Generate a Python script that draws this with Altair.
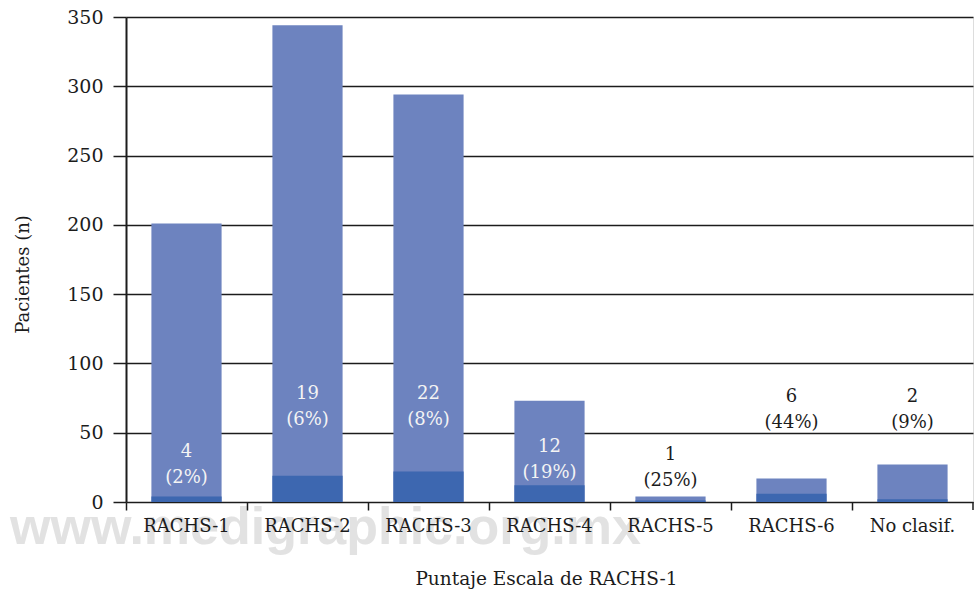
import altair as alt
import pandas as pd

# Patients per RACHS-1 risk category, with deaths and mortality
categories = ["RACHS-1", "RACHS-2", "RACHS-3", "RACHS-4", "RACHS-5", "RACHS-6", "No clasif."]
patients = [201, 344, 294, 73, 4, 17, 27]
deaths = [4, 19, 22, 12, 1, 6, 2]
mortality_pct = [2, 6, 8, 19, 25, 44, 9]

# Vertical placement of each two-line annotation (in patient units)
label_anchor = [36, 78, 78, 40, 34, 76, 76]

df = pd.DataFrame({
    "cat": categories,
    "total": patients,
    "deaths": deaths,
    "pct": [f"({p}%)" for p in mortality_pct],
    "anchor": label_anchor,
})

W, H = 847, 485
SERIF = "DejaVu Serif"
INK = "#1c1c1c"
LIGHT = "#6d83bf"
DARK = "#3d67b0"

x_enc = alt.X(
    "cat:N",
    sort=categories,
    scale=alt.Scale(paddingInner=0, paddingOuter=0),
    axis=alt.Axis(
        title="Puntaje Escala de RACHS-1",
        bandPosition=0,
        domain=False,
        grid=False,
        ticks=True,
        tickSize=8,
        tickWidth=1.5,
        tickColor=INK,
        labelAngle=0,
        labelFont=SERIF,
        labelFontSize=18,
        labelColor=INK,
        labelPadding=7,
        titleFont=SERIF,
        titleFontSize=18.5,
        titleFontWeight="normal",
        titleColor=INK,
        titleX=420,
        titleY=82,
        titleAlign="center",
        titleBaseline="alphabetic",
        zindex=1,
    ),
)

y_scale = alt.Scale(domain=[0, 350], nice=False)
y_axis = alt.Axis(
    title="Pacientes (n)",
    values=[0, 50, 100, 150, 200, 250, 300, 350],
    grid=True,
    gridColor=INK,
    gridWidth=1.5,
    domain=True,
    domainColor=INK,
    domainWidth=2,
    tickSize=13,
    tickWidth=1.5,
    tickColor=INK,
    labelFont=SERIF,
    labelFontSize=19,
    labelColor=INK,
    labelPadding=10,
    titleFont=SERIF,
    titleFontSize=18,
    titleFontWeight="normal",
    titleColor=INK,
    titleAngle=270,
    titleX=-103,
    titleY=257,
    titleAlign="center",
    titleBaseline="middle",
)

base = alt.Chart(df)

# Publisher's watermark across the foot of the figure
watermark = alt.Chart(pd.DataFrame({"t": ["www.medigraphic.org.mx"]})).mark_text(
    font="Liberation Sans",
    fontSize=52,
    fontWeight="bold",
    color="#e2e2e2",
    align="left",
    baseline="alphabetic",
).encode(x=alt.value(-116), y=alt.value(H + 42), text="t:N")

total_bars = base.mark_bar(color=LIGHT, width=alt.RelativeBandSize(0.58)).encode(
    x=x_enc,
    y=alt.Y("total:Q", scale=y_scale, axis=y_axis),
)

death_bars = base.mark_bar(color=DARK, width=alt.RelativeBandSize(0.58)).encode(
    x=alt.X("cat:N", sort=categories),
    y=alt.Y("deaths:Q"),
)

end_tick = alt.Chart(df.tail(1)).mark_rule(color=INK, strokeWidth=1.5).encode(
    x=alt.X("cat:N", sort=categories, bandPosition=1),
    y=alt.value(H),
    y2=alt.value(H + 8),
)

label_color = alt.condition("datum.anchor < datum.total", alt.value("#f4f4f4"), alt.value(INK))

count_text = base.mark_text(font=SERIF, fontSize=18, baseline="middle").encode(
    x=alt.X("cat:N", sort=categories),
    y=alt.Y("anchor:Q"),
    text="deaths:Q",
    color=label_color,
)

pct_text = base.mark_text(font=SERIF, fontSize=18, baseline="middle", dy=26).encode(
    x=alt.X("cat:N", sort=categories),
    y=alt.Y("anchor:Q"),
    text="pct:N",
    color=label_color,
)

chart = (
    alt.layer(watermark, total_bars, death_bars, end_tick, count_text, pct_text)
    .properties(
        width=W,
        height=H,
        autosize=alt.AutoSizeParams(type="none"),
        padding={"left": 126, "top": 17, "right": 2, "bottom": 88},
    )
    .configure_view(stroke=None)
    .configure(background="white")
)

chart.save("out.html", embed_options={"renderer": "svg", "actions": False})
